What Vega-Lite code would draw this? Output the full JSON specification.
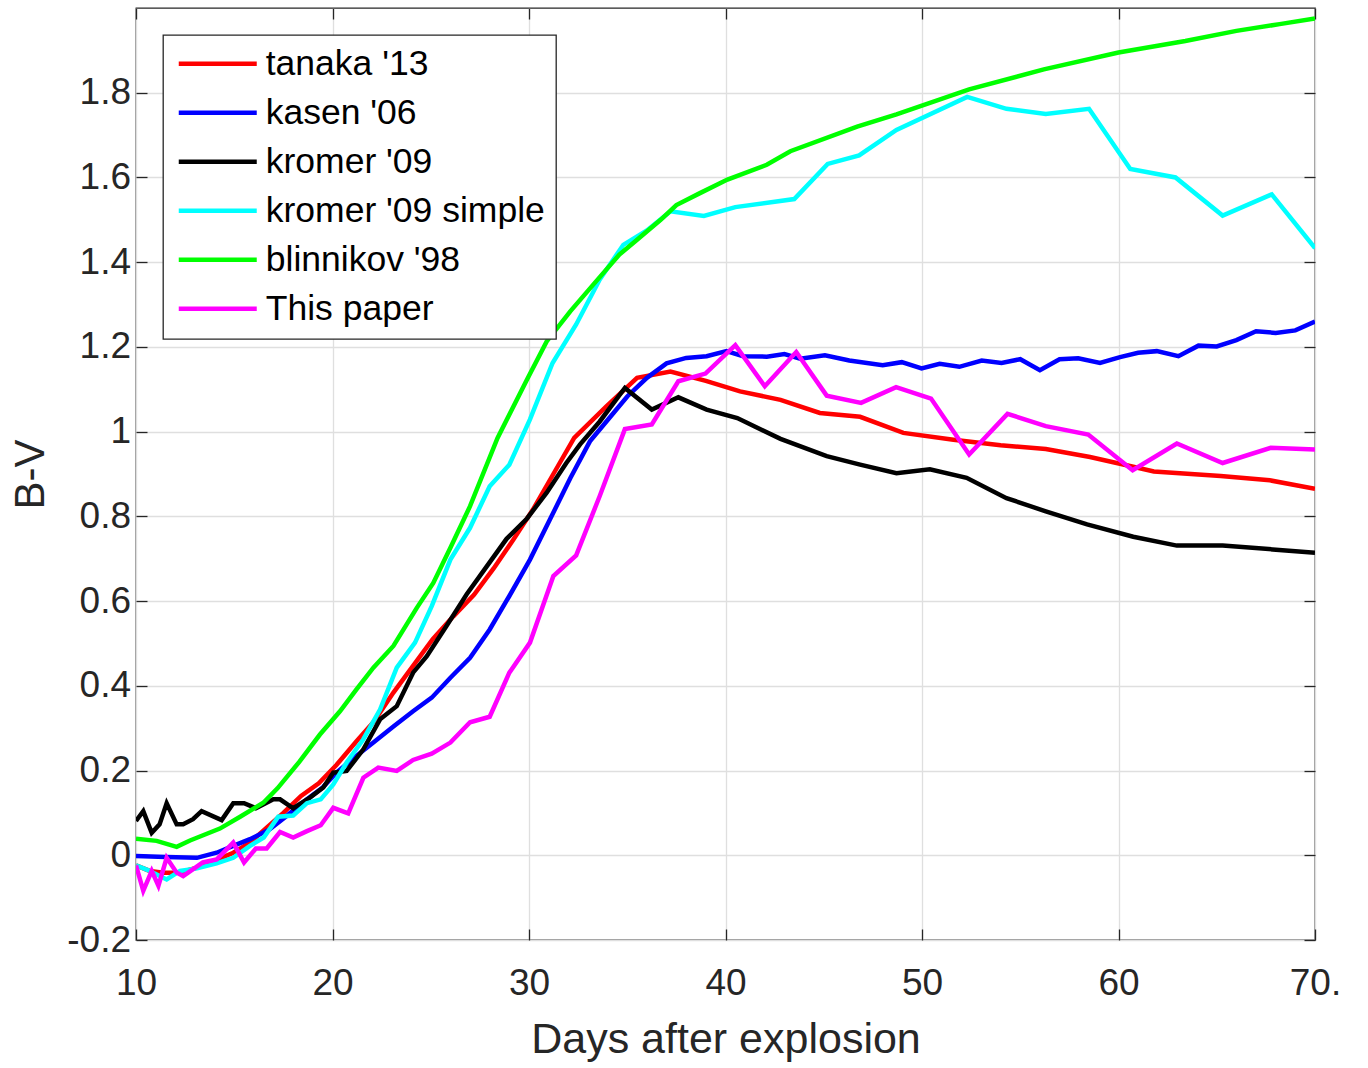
{
  "$schema": "https://vega.github.io/schema/vega-lite/v6.json",
  "width": 1179,
  "height": 932,
  "autosize": {"type": "none"},
  "padding": {"left": 136, "top": 8, "right": 53, "bottom": 128},
  "background": "white",
  "config": {
    "font": "Liberation Sans",
    "view": {"stroke": "#262626", "strokeWidth": 1.3},
    "legend": {"strokeWidth": 1.3}
  },
  "data": {"values": [
{"model":"tanaka '13","day":10,"bv":-0.024},{"model":"tanaka '13","day":10.7,"bv":-0.037},{"model":"tanaka '13","day":11.4,"bv":-0.041},{"model":"tanaka '13","day":12.2,"bv":-0.041},{"model":"tanaka '13","day":13.1,"bv":-0.029},{"model":"tanaka '13","day":14.1,"bv":-0.011},{"model":"tanaka '13","day":14.95,"bv":0.006},{"model":"tanaka '13","day":15.8,"bv":0.03},{"model":"tanaka '13","day":16.65,"bv":0.065},{"model":"tanaka '13","day":17.5,"bv":0.1},{"model":"tanaka '13","day":18.4,"bv":0.14},{"model":"tanaka '13","day":19.3,"bv":0.17},{"model":"tanaka '13","day":20.2,"bv":0.213},{"model":"tanaka '13","day":21.2,"bv":0.268},{"model":"tanaka '13","day":22.1,"bv":0.315},{"model":"tanaka '13","day":23.1,"bv":0.384},{"model":"tanaka '13","day":24.1,"bv":0.447},{"model":"tanaka '13","day":25.1,"bv":0.51},{"model":"tanaka '13","day":26.15,"bv":0.564},{"model":"tanaka '13","day":27.2,"bv":0.615},{"model":"tanaka '13","day":28.2,"bv":0.677},{"model":"tanaka '13","day":29.2,"bv":0.745},{"model":"tanaka '13","day":30.2,"bv":0.816},{"model":"tanaka '13","day":31.24,"bv":0.9},{"model":"tanaka '13","day":32.3,"bv":0.985},{"model":"tanaka '13","day":33.95,"bv":1.06},{"model":"tanaka '13","day":35.5,"bv":1.127},{"model":"tanaka '13","day":37.2,"bv":1.142},{"model":"tanaka '13","day":39.0,"bv":1.12},{"model":"tanaka '13","day":40.74,"bv":1.095},{"model":"tanaka '13","day":42.8,"bv":1.075},{"model":"tanaka '13","day":44.8,"bv":1.044},{"model":"tanaka '13","day":46.85,"bv":1.035},{"model":"tanaka '13","day":49.05,"bv":0.997},{"model":"tanaka '13","day":51.6,"bv":0.981},{"model":"tanaka '13","day":54.0,"bv":0.968},{"model":"tanaka '13","day":56.3,"bv":0.959},{"model":"tanaka '13","day":58.55,"bv":0.94},{"model":"tanaka '13","day":60.75,"bv":0.917},{"model":"tanaka '13","day":61.8,"bv":0.906},{"model":"tanaka '13","day":65.2,"bv":0.895},{"model":"tanaka '13","day":67.7,"bv":0.885},{"model":"tanaka '13","day":70,"bv":0.865},
{"model":"kasen '06","day":10,"bv":-0.002},{"model":"kasen '06","day":11.5,"bv":-0.004},{"model":"kasen '06","day":13.1,"bv":-0.006},{"model":"kasen '06","day":14.1,"bv":0.006},{"model":"kasen '06","day":14.95,"bv":0.022},{"model":"kasen '06","day":15.8,"bv":0.038},{"model":"kasen '06","day":16.8,"bv":0.061},{"model":"kasen '06","day":17.67,"bv":0.093},{"model":"kasen '06","day":18.7,"bv":0.132},{"model":"kasen '06","day":19.5,"bv":0.16},{"model":"kasen '06","day":20.2,"bv":0.195},{"model":"kasen '06","day":21.1,"bv":0.23},{"model":"kasen '06","day":22.08,"bv":0.266},{"model":"kasen '06","day":23.1,"bv":0.304},{"model":"kasen '06","day":24.1,"bv":0.34},{"model":"kasen '06","day":25.05,"bv":0.372},{"model":"kasen '06","day":26.0,"bv":0.419},{"model":"kasen '06","day":27.0,"bv":0.466},{"model":"kasen '06","day":28.0,"bv":0.533},{"model":"kasen '06","day":29.0,"bv":0.612},{"model":"kasen '06","day":30.05,"bv":0.698},{"model":"kasen '06","day":31.07,"bv":0.793},{"model":"kasen '06","day":32.1,"bv":0.89},{"model":"kasen '06","day":33.1,"bv":0.977},{"model":"kasen '06","day":34.3,"bv":1.044},{"model":"kasen '06","day":35.0,"bv":1.083},{"model":"kasen '06","day":36.0,"bv":1.127},{"model":"kasen '06","day":37.0,"bv":1.161},{"model":"kasen '06","day":38.0,"bv":1.174},{"model":"kasen '06","day":39.04,"bv":1.178},{"model":"kasen '06","day":40.05,"bv":1.19},{"model":"kasen '06","day":40.9,"bv":1.178},{"model":"kasen '06","day":42.1,"bv":1.177},{"model":"kasen '06","day":43.0,"bv":1.183},{"model":"kasen '06","day":43.8,"bv":1.172},{"model":"kasen '06","day":45.06,"bv":1.18},{"model":"kasen '06","day":46.3,"bv":1.168},{"model":"kasen '06","day":48.0,"bv":1.157},{"model":"kasen '06","day":48.97,"bv":1.164},{"model":"kasen '06","day":49.98,"bv":1.149},{"model":"kasen '06","day":50.9,"bv":1.16},{"model":"kasen '06","day":51.9,"bv":1.153},{"model":"kasen '06","day":53.04,"bv":1.168},{"model":"kasen '06","day":54.05,"bv":1.162},{"model":"kasen '06","day":55.0,"bv":1.171},{"model":"kasen '06","day":56.0,"bv":1.145},{"model":"kasen '06","day":57.0,"bv":1.171},{"model":"kasen '06","day":57.95,"bv":1.173},{"model":"kasen '06","day":59.06,"bv":1.162},{"model":"kasen '06","day":60.08,"bv":1.176},{"model":"kasen '06","day":61.0,"bv":1.186},{"model":"kasen '06","day":61.95,"bv":1.19},{"model":"kasen '06","day":63.05,"bv":1.178},{"model":"kasen '06","day":64.07,"bv":1.203},{"model":"kasen '06","day":65.0,"bv":1.201},{"model":"kasen '06","day":66.0,"bv":1.216},{"model":"kasen '06","day":67.0,"bv":1.237},{"model":"kasen '06","day":68.0,"bv":1.233},{"model":"kasen '06","day":69.0,"bv":1.239},{"model":"kasen '06","day":70,"bv":1.26},
{"model":"kromer '09","day":10,"bv":0.081},{"model":"kromer '09","day":10.37,"bv":0.104},{"model":"kromer '09","day":10.8,"bv":0.053},{"model":"kromer '09","day":11.2,"bv":0.073},{"model":"kromer '09","day":11.56,"bv":0.123},{"model":"kromer '09","day":12.07,"bv":0.073},{"model":"kromer '09","day":12.4,"bv":0.073},{"model":"kromer '09","day":12.9,"bv":0.085},{"model":"kromer '09","day":13.34,"bv":0.104},{"model":"kromer '09","day":14.36,"bv":0.083},{"model":"kromer '09","day":14.95,"bv":0.123},{"model":"kromer '09","day":15.5,"bv":0.123},{"model":"kromer '09","day":16.1,"bv":0.111},{"model":"kromer '09","day":16.99,"bv":0.132},{"model":"kromer '09","day":17.33,"bv":0.132},{"model":"kromer '09","day":18.0,"bv":0.111},{"model":"kromer '09","day":18.85,"bv":0.136},{"model":"kromer '09","day":19.53,"bv":0.16},{"model":"kromer '09","day":20.04,"bv":0.195},{"model":"kromer '09","day":20.72,"bv":0.199},{"model":"kromer '09","day":21.57,"bv":0.25},{"model":"kromer '09","day":22.42,"bv":0.321},{"model":"kromer '09","day":23.27,"bv":0.352},{"model":"kromer '09","day":24.1,"bv":0.431},{"model":"kromer '09","day":24.8,"bv":0.47},{"model":"kromer '09","day":25.8,"bv":0.541},{"model":"kromer '09","day":26.83,"bv":0.616},{"model":"kromer '09","day":27.85,"bv":0.682},{"model":"kromer '09","day":28.86,"bv":0.747},{"model":"kromer '09","day":29.9,"bv":0.795},{"model":"kromer '09","day":30.9,"bv":0.856},{"model":"kromer '09","day":31.9,"bv":0.926},{"model":"kromer '09","day":32.6,"bv":0.97},{"model":"kromer '09","day":33.6,"bv":1.024},{"model":"kromer '09","day":34.88,"bv":1.103},{"model":"kromer '09","day":36.25,"bv":1.052},{"model":"kromer '09","day":37.6,"bv":1.081},{"model":"kromer '09","day":39.04,"bv":1.052},{"model":"kromer '09","day":40.6,"bv":1.032},{"model":"kromer '09","day":42.8,"bv":0.983},{"model":"kromer '09","day":45.15,"bv":0.942},{"model":"kromer '09","day":46.85,"bv":0.922},{"model":"kromer '09","day":48.7,"bv":0.902},{"model":"kromer '09","day":50.4,"bv":0.911},{"model":"kromer '09","day":52.27,"bv":0.891},{"model":"kromer '09","day":54.3,"bv":0.843},{"model":"kromer '09","day":56.3,"bv":0.812},{"model":"kromer '09","day":58.4,"bv":0.781},{"model":"kromer '09","day":60.75,"bv":0.752},{"model":"kromer '09","day":62.97,"bv":0.731},{"model":"kromer '09","day":65.3,"bv":0.731},{"model":"kromer '09","day":67.85,"bv":0.722},{"model":"kromer '09","day":70,"bv":0.714},
{"model":"kromer '09 simple","day":10,"bv":-0.024},{"model":"kromer '09 simple","day":10.6,"bv":-0.035},{"model":"kromer '09 simple","day":11.56,"bv":-0.057},{"model":"kromer '09 simple","day":12.24,"bv":-0.037},{"model":"kromer '09 simple","day":13.1,"bv":-0.031},{"model":"kromer '09 simple","day":14.1,"bv":-0.019},{"model":"kromer '09 simple","day":14.95,"bv":-0.006},{"model":"kromer '09 simple","day":15.8,"bv":0.022},{"model":"kromer '09 simple","day":16.5,"bv":0.042},{"model":"kromer '09 simple","day":17.24,"bv":0.091},{"model":"kromer '09 simple","day":18.0,"bv":0.094},{"model":"kromer '09 simple","day":18.7,"bv":0.123},{"model":"kromer '09 simple","day":19.4,"bv":0.132},{"model":"kromer '09 simple","day":20.04,"bv":0.167},{"model":"kromer '09 simple","day":20.72,"bv":0.219},{"model":"kromer '09 simple","day":21.57,"bv":0.274},{"model":"kromer '09 simple","day":22.42,"bv":0.344},{"model":"kromer '09 simple","day":23.27,"bv":0.443},{"model":"kromer '09 simple","day":24.2,"bv":0.502},{"model":"kromer '09 simple","day":25.05,"bv":0.588},{"model":"kromer '09 simple","day":26.0,"bv":0.698},{"model":"kromer '09 simple","day":27.0,"bv":0.773},{"model":"kromer '09 simple","day":28.0,"bv":0.871},{"model":"kromer '09 simple","day":29.0,"bv":0.922},{"model":"kromer '09 simple","day":30.05,"bv":1.029},{"model":"kromer '09 simple","day":31.2,"bv":1.162},{"model":"kromer '09 simple","day":32.4,"bv":1.253},{"model":"kromer '09 simple","day":33.6,"bv":1.359},{"model":"kromer '09 simple","day":34.8,"bv":1.441},{"model":"kromer '09 simple","day":36.0,"bv":1.475},{"model":"kromer '09 simple","day":37.2,"bv":1.52},{"model":"kromer '09 simple","day":38.9,"bv":1.509},{"model":"kromer '09 simple","day":40.5,"bv":1.53},{"model":"kromer '09 simple","day":43.5,"bv":1.549},{"model":"kromer '09 simple","day":45.2,"bv":1.632},{"model":"kromer '09 simple","day":46.8,"bv":1.652},{"model":"kromer '09 simple","day":48.7,"bv":1.712},{"model":"kromer '09 simple","day":52.3,"bv":1.79},{"model":"kromer '09 simple","day":54.3,"bv":1.762},{"model":"kromer '09 simple","day":56.3,"bv":1.75},{"model":"kromer '09 simple","day":58.5,"bv":1.762},{"model":"kromer '09 simple","day":60.6,"bv":1.62},{"model":"kromer '09 simple","day":62.9,"bv":1.6},{"model":"kromer '09 simple","day":65.3,"bv":1.51},{"model":"kromer '09 simple","day":67.8,"bv":1.56},{"model":"kromer '09 simple","day":70,"bv":1.433},
{"model":"blinnikov '98","day":10,"bv":0.039},{"model":"blinnikov '98","day":11.05,"bv":0.034},{"model":"blinnikov '98","day":12.07,"bv":0.02},{"model":"blinnikov '98","day":12.75,"bv":0.035},{"model":"blinnikov '98","day":14.27,"bv":0.063},{"model":"blinnikov '98","day":15.3,"bv":0.091},{"model":"blinnikov '98","day":16.48,"bv":0.124},{"model":"blinnikov '98","day":17.2,"bv":0.158},{"model":"blinnikov '98","day":18.3,"bv":0.22},{"model":"blinnikov '98","day":19.36,"bv":0.285},{"model":"blinnikov '98","day":20.38,"bv":0.34},{"model":"blinnikov '98","day":21.23,"bv":0.392},{"model":"blinnikov '98","day":22.08,"bv":0.443},{"model":"blinnikov '98","day":23.1,"bv":0.494},{"model":"blinnikov '98","day":24.29,"bv":0.584},{"model":"blinnikov '98","day":25.13,"bv":0.643},{"model":"blinnikov '98","day":26.0,"bv":0.726},{"model":"blinnikov '98","day":27.0,"bv":0.824},{"model":"blinnikov '98","day":28.4,"bv":0.985},{"model":"blinnikov '98","day":29.9,"bv":1.123},{"model":"blinnikov '98","day":30.9,"bv":1.213},{"model":"blinnikov '98","day":32.1,"bv":1.284},{"model":"blinnikov '98","day":33.27,"bv":1.347},{"model":"blinnikov '98","day":34.6,"bv":1.418},{"model":"blinnikov '98","day":35.5,"bv":1.453},{"model":"blinnikov '98","day":36.7,"bv":1.5},{"model":"blinnikov '98","day":37.5,"bv":1.535},{"model":"blinnikov '98","day":38.7,"bv":1.563},{"model":"blinnikov '98","day":40.1,"bv":1.595},{"model":"blinnikov '98","day":42.1,"bv":1.63},{"model":"blinnikov '98","day":43.3,"bv":1.662},{"model":"blinnikov '98","day":46.7,"bv":1.72},{"model":"blinnikov '98","day":48.7,"bv":1.749},{"model":"blinnikov '98","day":52.4,"bv":1.808},{"model":"blinnikov '98","day":56.2,"bv":1.855},{"model":"blinnikov '98","day":60,"bv":1.895},{"model":"blinnikov '98","day":63.4,"bv":1.922},{"model":"blinnikov '98","day":66,"bv":1.946},{"model":"blinnikov '98","day":68.2,"bv":1.962},{"model":"blinnikov '98","day":70,"bv":1.975},
{"model":"This paper","day":10,"bv":-0.024},{"model":"This paper","day":10.37,"bv":-0.084},{"model":"This paper","day":10.8,"bv":-0.037},{"model":"This paper","day":11.14,"bv":-0.072},{"model":"This paper","day":11.56,"bv":-0.006},{"model":"This paper","day":12.07,"bv":-0.041},{"model":"This paper","day":12.4,"bv":-0.049},{"model":"This paper","day":13.4,"bv":-0.017},{"model":"This paper","day":14.1,"bv":-0.01},{"model":"This paper","day":14.95,"bv":0.03},{"model":"This paper","day":15.5,"bv":-0.017},{"model":"This paper","day":16.1,"bv":0.016},{"model":"This paper","day":16.65,"bv":0.016},{"model":"This paper","day":17.33,"bv":0.055},{"model":"This paper","day":18.0,"bv":0.042},{"model":"This paper","day":18.7,"bv":0.057},{"model":"This paper","day":19.4,"bv":0.071},{"model":"This paper","day":20.04,"bv":0.112},{"model":"This paper","day":20.8,"bv":0.099},{"model":"This paper","day":21.57,"bv":0.183},{"model":"This paper","day":22.33,"bv":0.207},{"model":"This paper","day":23.27,"bv":0.199},{"model":"This paper","day":24.1,"bv":0.225},{"model":"This paper","day":25.05,"bv":0.24},{"model":"This paper","day":26.0,"bv":0.266},{"model":"This paper","day":27.0,"bv":0.314},{"model":"This paper","day":28.0,"bv":0.327},{"model":"This paper","day":29.0,"bv":0.431},{"model":"This paper","day":30.05,"bv":0.502},{"model":"This paper","day":31.24,"bv":0.659},{"model":"This paper","day":32.4,"bv":0.708},{"model":"This paper","day":33.6,"bv":0.848},{"model":"This paper","day":34.88,"bv":1.006},{"model":"This paper","day":36.25,"bv":1.017},{"model":"This paper","day":37.6,"bv":1.119},{"model":"This paper","day":38.98,"bv":1.137},{"model":"This paper","day":40.5,"bv":1.204},{"model":"This paper","day":42.0,"bv":1.107},{"model":"This paper","day":43.6,"bv":1.188},{"model":"This paper","day":45.15,"bv":1.085},{"model":"This paper","day":46.9,"bv":1.068},{"model":"This paper","day":48.68,"bv":1.105},{"model":"This paper","day":50.46,"bv":1.078},{"model":"This paper","day":52.4,"bv":0.946},{"model":"This paper","day":54.35,"bv":1.042},{"model":"This paper","day":56.3,"bv":1.013},{"model":"This paper","day":58.46,"bv":0.993},{"model":"This paper","day":60.72,"bv":0.909},{"model":"This paper","day":62.97,"bv":0.972},{"model":"This paper","day":65.3,"bv":0.926},{"model":"This paper","day":67.75,"bv":0.962},{"model":"This paper","day":70,"bv":0.958}
  ]},
  "resolve": {"axis": {"x": "independent", "y": "independent"}},
  "layer": [
    {
      "mark": {"type": "line", "strokeWidth": 4.5, "clip": true},
      "encoding": {
        "x": {
          "field": "day", "type": "quantitative",
          "scale": {"domain": [10, 70], "nice": false, "zero": false},
          "axis": {
            "orient": "bottom", "values": [10, 20, 30, 40, 50, 60, 70],
            "title": "Days after explosion", "titleFontSize": 43, "titleFontWeight": "normal",
            "titleColor": "#262626", "titlePadding": 17, "titleFont": "Liberation Sans",
            "labelFontSize": 37, "labelColor": "#262626", "labelFont": "Liberation Sans",
            "labelExpr": "datum.value == 70 ? '70.' : datum.label",
            "labelFlush": false, "labelOverlap": false, "labelPadding": 36, "labelDx": 6,
            "tickSize": -11, "tickColor": "#262626", "tickWidth": 1.3,
            "domain": false, "grid": true, "gridColor": "#dfdfdf", "gridWidth": 1.3
          }
        },
        "y": {
          "field": "bv", "type": "quantitative",
          "scale": {"domain": [-0.2, 2.0], "nice": false, "zero": false},
          "axis": {
            "orient": "left", "values": [-0.2, 0, 0.2, 0.4, 0.6, 0.8, 1, 1.2, 1.4, 1.6, 1.8],
            "title": "B-V", "titleFontSize": 42, "titleFontWeight": "normal",
            "titleColor": "#262626", "titlePadding": 14, "titleFont": "Liberation Sans",
            "labelFontSize": 37, "labelColor": "#262626", "labelFont": "Liberation Sans",
            "labelExpr": "datum.value < 0 ? '-' + format(-datum.value, '~g') : format(datum.value, '~g')",
            "labelFlush": false, "labelOverlap": false, "labelPadding": 16.5, "labelDy": 5,
            "tickSize": -11, "tickColor": "#262626", "tickWidth": 1.3,
            "domain": false, "grid": true, "gridColor": "#dfdfdf", "gridWidth": 1.3
          }
        },
        "color": {
          "field": "model", "type": "nominal",
          "scale": {
            "domain": ["tanaka '13", "kasen '06", "kromer '09", "kromer '09 simple", "blinnikov '98", "This paper"],
            "range": ["#ff0000", "#0000ff", "#000000", "#00ffff", "#00ff00", "#ff00ff"]
          },
          "legend": {
            "orient": "none", "legendX": 27, "legendY": 27, "title": null,
            "symbolType": "M-1,0H5", "symbolSize": 676, "symbolStrokeWidth": 4.5,
            "labelFontSize": 35.5, "labelFont": "Liberation Sans", "labelColor": "#000000",
            "labelOffset": 56.25, "labelLimit": 500, "rowPadding": 12, "padding": 11,
            "strokeColor": "#262626", "fillColor": "#ffffff"
          }
        }
      }
    },
    {
      "mark": {"type": "line", "opacity": 0},
      "encoding": {
        "x": {
          "field": "day", "type": "quantitative",
          "axis": {"orient": "top", "values": [10, 20, 30, 40, 50, 60, 70], "labels": false, "title": null,
                   "tickSize": -11, "tickColor": "#262626", "tickWidth": 1.3, "domain": false, "grid": false}
        },
        "y": {
          "field": "bv", "type": "quantitative",
          "axis": {"orient": "right", "values": [-0.2, 0, 0.2, 0.4, 0.6, 0.8, 1, 1.2, 1.4, 1.6, 1.8], "labels": false, "title": null,
                   "tickSize": -11, "tickColor": "#262626", "tickWidth": 1.3, "domain": false, "grid": false}
        }
      }
    }
  ]
}
